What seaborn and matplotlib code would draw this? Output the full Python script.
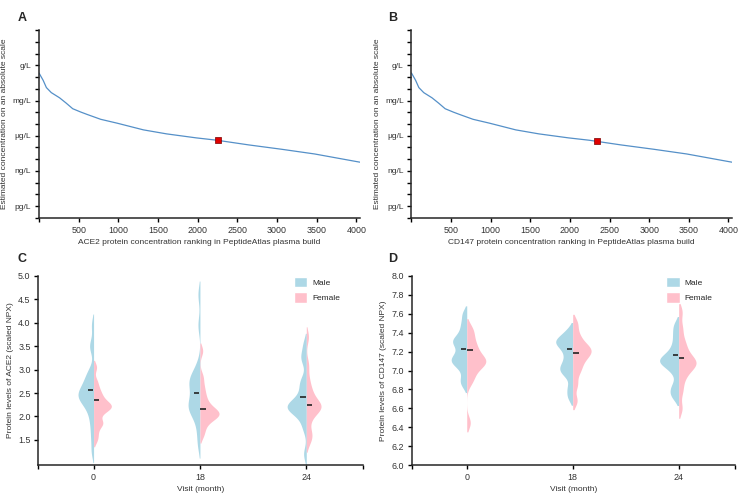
import matplotlib
matplotlib.use("Agg")
import matplotlib.pyplot as plt
from matplotlib.patches import Patch
import pandas as pd
import seaborn as sns

FONT = "Liberation Sans"
LINE = "#5590c8"
MALE = "#add8e6"
FEMALE = "#ffc0cb"

# --- panels A/B: PeptideAtlas concentration curve (log10 g/L vs rank)
rank = [0, 52, 93, 155, 259, 342, 425, 529, 612, 777, 985, 1316, 1607, 1980, 2241, 2643, 3057, 3473, 4003, 4045]
log_conc = [-0.66, -1.28, -1.9, -2.33, -2.77, -3.22, -3.7, -3.99, -4.2, -4.6, -4.93, -5.5, -5.84, -6.18, -6.38,
            -6.78, -7.15, -7.55, -8.2, -8.25]
conc_ticks = [-12, -9, -6, -3, 0]
conc_labels = ["pg/L", "ng/L", "µg/L", "mg/L", "g/L"]
ace2_rank, ace2_conc = 2260, -6.38
cd147_rank, cd147_conc = 2345, -6.45

# --- panels C/D: NPX values per visit and sex
visits = ["0", "18", "24"]
ace2_male = [
    [1.25, 1.55, 1.8, 2.0, 2.15, 2.25, 2.32, 2.38, 2.42, 2.45, 2.48, 2.52, 2.58, 2.65, 2.72, 2.8, 2.9, 3.0, 3.45, 3.55, 3.95],
    [1.4, 1.7, 1.95, 2.1, 2.15, 2.2, 2.25, 2.3, 2.4, 2.55, 2.65, 2.72, 2.78, 2.82, 2.9, 3.1, 3.95, 4.6],
    [1.2, 1.75, 1.95, 2.1, 2.15, 2.18, 2.2, 2.22, 2.25, 2.3, 2.4, 2.55, 2.7, 2.8, 3.2, 3.3, 3.55],
]
ace2_female = [
    [1.5, 1.65, 1.82, 1.85, 1.9, 2.05, 2.12, 2.17, 2.2, 2.22, 2.25, 2.28, 2.35, 2.42, 2.5, 2.6, 2.75, 3.05],
    [1.6, 1.75, 1.88, 1.95, 2.0, 2.02, 2.05, 2.08, 2.1, 2.15, 2.2, 2.28, 2.38, 2.5, 2.65, 2.85, 3.4],
    [1.45, 1.6, 1.65, 1.9, 2.05, 2.12, 2.18, 2.2, 2.22, 2.25, 2.3, 2.38, 2.5, 2.6, 2.8, 3.1, 3.7],
]
cd147_male = [
    [6.85, 6.92, 7.02, 7.07, 7.1, 7.12, 7.15, 7.2, 7.26, 7.3, 7.32, 7.35, 7.42, 7.5, 7.6],
    [6.72, 6.82, 6.95, 7.0, 7.03, 7.08, 7.15, 7.22, 7.27, 7.3, 7.32, 7.35, 7.42],
    [6.72, 6.78, 6.85, 6.98, 7.05, 7.08, 7.1, 7.12, 7.15, 7.2, 7.28, 7.38, 7.48],
]
cd147_female = [
    [6.45, 6.88, 6.95, 7.02, 7.06, 7.08, 7.1, 7.12, 7.15, 7.2, 7.25, 7.3, 7.38, 7.45],
    [6.68, 6.85, 6.98, 7.05, 7.12, 7.16, 7.2, 7.22, 7.25, 7.3, 7.38, 7.5],
    [6.6, 6.78, 6.9, 6.98, 7.03, 7.06, 7.08, 7.1, 7.13, 7.18, 7.25, 7.32, 7.45, 7.62],
]
ace2_mid_male = [2.57, 2.51, 2.41]
ace2_mid_female = [2.35, 2.17, 2.24]
cd147_mid_male = [7.23, 7.225, 7.16]
cd147_mid_female = [7.22, 7.18, 7.13]

sns.set_style("ticks")
plt.rcParams["font.family"] = [FONT, "DejaVu Sans"]
plt.rcParams["font.size"] = 6
plt.rcParams["xtick.labelsize"] = 6.4
plt.rcParams["ytick.labelsize"] = 6.4
plt.rcParams["axes.linewidth"] = 1.1
plt.rcParams["xtick.major.width"] = 1.0
plt.rcParams["ytick.major.width"] = 1.0
plt.rcParams["xtick.minor.width"] = 1.0
plt.rcParams["xtick.major.size"] = 3
plt.rcParams["ytick.major.size"] = 3
plt.rcParams["xtick.minor.size"] = 3
plt.rcParams["xtick.major.pad"] = 2.5
plt.rcParams["ytick.major.pad"] = 2.5
plt.rcParams["xtick.color"] = "black"
plt.rcParams["ytick.color"] = "black"
plt.rcParams["xtick.labelcolor"] = "#333333"
plt.rcParams["ytick.labelcolor"] = "#333333"
plt.rcParams["axes.labelcolor"] = "#333333"


def long_frame(male, female):
    rows = []
    for v, vals in zip(visits, male):
        rows += [(v, "Male", x) for x in vals]
    for v, vals in zip(visits, female):
        rows += [(v, "Female", x) for x in vals]
    return pd.DataFrame(rows, columns=["visit", "sex", "npx"])


def plot_curve(ax, mark_rank, mark_conc, xlabel, xmax):
    sns.lineplot(x=rank, y=log_conc, color=LINE, linewidth=0.9, ax=ax)
    sns.scatterplot(x=[mark_rank], y=[mark_conc], marker="s", s=18, color="#e00000",
                    edgecolor="#7a0000", linewidth=0.5, zorder=3, ax=ax)
    ax.set_xlim(0, xmax)
    ax.set_ylim(-13, 3)
    ax.set_xticks(range(0, 4001, 500))
    ax.set_xticklabels([""] + [str(t) for t in range(500, 4001, 500)])
    ax.set_yticks(range(-13, 4))
    ax.set_yticklabels([conc_labels[conc_ticks.index(t)] if t in conc_ticks else ""
                        for t in range(-13, 4)], fontsize=6)
    ax.set_xlabel(xlabel, labelpad=3)
    ax.set_ylabel("Estimated concentration on an absolute scale", labelpad=3)
    sns.despine(ax=ax)


def plot_violin(ax, male, female, mid_male, mid_female, ylim, yticks, ylabel):
    df = long_frame(male, female)
    sns.violinplot(data=df, x="visit", y="npx", hue="sex", order=visits,
                   hue_order=["Male", "Female"], split=True, inner=None,
                   palette={"Male": MALE, "Female": FEMALE}, saturation=1,
                   linewidth=0, density_norm="area", width=0.36,
                   bw_adjust=0.45, cut=1.5, ax=ax)
    for i in range(len(visits)):
        ax.hlines(mid_male[i], i - 0.055, i - 0.005, color="#222222", linewidth=1.2, zorder=4)
        ax.hlines(mid_female[i], i + 0.005, i + 0.055, color="#222222", linewidth=1.2, zorder=4)
    ax.set_xlim(-0.52, 2.53)
    ax.set_ylim(*ylim)
    ax.set_yticks(yticks)
    ax.set_yticklabels([f"{t:.1f}" for t in yticks])
    ax.set_xticks([-0.52, 2.53], minor=True)
    ax.set_xlabel("Visit (month)", labelpad=3)
    ax.set_ylabel(ylabel, labelpad=3)
    handles = [Patch(facecolor=MALE, label="Male"), Patch(facecolor=FEMALE, label="Female")]
    ax.legend(handles=handles, frameon=False, loc="upper left", bbox_to_anchor=(0.765, 1.035),
              handlelength=1.6, handleheight=1.6, labelspacing=0.55, handletextpad=0.6,
              fontsize=6)
    sns.despine(ax=ax)


fig = plt.figure(figsize=(7.43, 4.96), dpi=100)
ax_a = fig.add_axes([0.0525, 0.5605, 0.432, 0.379])
ax_b = fig.add_axes([0.5538, 0.5605, 0.4314, 0.379])
ax_c = fig.add_axes([0.0515, 0.062, 0.4366, 0.382])
ax_d = fig.add_axes([0.554, 0.062, 0.435, 0.382])

plot_curve(ax_a, ace2_rank, ace2_conc, "ACE2 protein concentration ranking in PeptideAtlas plasma build", 4045)
plot_curve(ax_b, cd147_rank, cd147_conc, "CD147 protein concentration ranking in PeptideAtlas plasma build", 4045)

plot_violin(ax_c, ace2_male, ace2_female, ace2_mid_male, ace2_mid_female,
            (0.96, 5.0), [1.5, 2.0, 2.5, 3.0, 3.5, 4.0, 4.5, 5.0],
            "Protein levels of ACE2 (scaled NPX)")
plot_violin(ax_d, cd147_male, cd147_female, cd147_mid_male, cd147_mid_female,
            (6.0, 8.0), [6.0, 6.2, 6.4, 6.6, 6.8, 7.0, 7.2, 7.4, 7.6, 7.8, 8.0],
            "Protein levels of CD147 (scaled NPX)")

for label, x, y in [("A", 0.024, 0.975), ("B", 0.523, 0.975), ("C", 0.024, 0.49), ("D", 0.523, 0.49)]:
    fig.text(x, y, label, fontsize=9, fontweight="bold", va="top")

fig.savefig("out.png", dpi=100)
